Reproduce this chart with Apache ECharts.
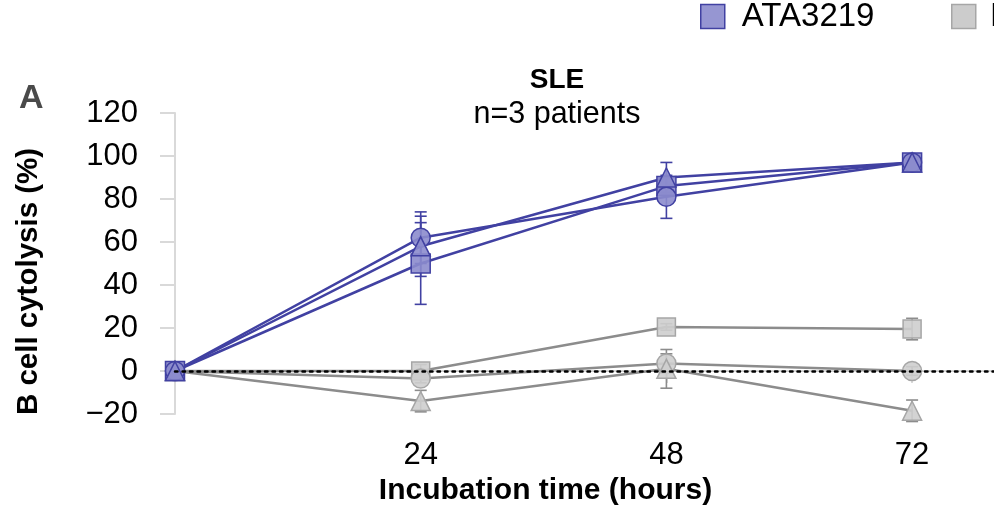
<!DOCTYPE html>
<html>
<head>
<meta charset="utf-8">
<script src="https://cdn.jsdelivr.net/npm/echarts@6/dist/echarts.min.js"></script>
<style>
html,body{margin:0;padding:0;background:#fff;}
#chart{width:994px;height:506px;}
</style>
</head>
<body>
<div id="chart"></div>
<script>
// ---- data ----
const hours = [0, 24, 48, 72];
const xTicks = [24, 48, 72];
const yTicks = [-20, 0, 20, 40, 60, 80, 100, 120];

const ataSquare = [0, 50, 86, 97];
const ataSquareErr = [0, 19, 4, 1];
const ataCircle = [0, 62, 81, 97];
const ataCircleErr = [0, 12, 10, 1];
const ataTriangle = [0, 58, 90, 97];
const ataTriangleErr = [0, 14, 7, 1];

const ctrlSquare = [0, 0, 20.5, 19.5];
const ctrlSquareErr = [0, 3, 1.5, 5];
const ctrlCircle = [0, -3.5, 3.5, 0];
const ctrlCircleErr = [0, 2, 4.5, 2];
const ctrlTriangle = [0, -14, 1, -18.5];
const ctrlTriangleErr = [0, 5, 9, 5];

const legendNames = ['ATA3219', 'Isotype control'];

// ---- styles ----
const BLUE = '#4141a2';
const BLUE_FILL = 'rgba(140,140,205,0.9)';
const GRAY = '#8c8c8c';
const GRAY_FILL = 'rgba(206,206,206,0.9)';
const GRAY_BORDER = '#a6a6a6';
const AXIS = '#d9d9d9';
const FONT = 'Arial, "Liberation Sans", sans-serif';

function pts(vals) { return hours.map((h, i) => [h, vals[i]]); }
function errs(vals, e) { return hours.map((h, i) => [h, vals[i] - e[i], vals[i] + e[i]]); }

function lineSeries(name, vals, symbol, lineColor, fill, border, size) {
  return {
    type: 'line', name: name, data: pts(vals), symbol: symbol, symbolSize: size,
    lineStyle: { color: lineColor, width: 2.5 },
    itemStyle: { color: fill, borderColor: border, borderWidth: 1.5 },
    emphasis: { disabled: true }, animation: false, z: 3
  };
}
function errSeries(name, vals, e, color) {
  return {
    type: 'custom', name: name, data: errs(vals, e), animation: false, z: 2,
    renderItem: function (params, api) {
      const x = api.value(0), lo = api.value(1), hi = api.value(2);
      if (hi - lo < 0.01) return null;
      const a = api.coord([x, hi]), b = api.coord([x, lo]);
      const w = 6;
      const st = { stroke: color, lineWidth: 1.6 };
      return { type: 'group', children: [
        { type: 'line', shape: { x1: a[0], y1: a[1], x2: b[0], y2: b[1] }, style: st },
        { type: 'line', shape: { x1: a[0] - w, y1: a[1], x2: a[0] + w, y2: a[1] }, style: st },
        { type: 'line', shape: { x1: b[0] - w, y1: b[1], x2: b[0] + w, y2: b[1] }, style: st }
      ]};
    }
  };
}

const legendText1 = { fontFamily: FONT, fontSize: 33, color: '#000', padding: [0, 0, 0, 12] };
const legendText2 = { fontFamily: FONT, fontSize: 33, color: '#000', padding: [0, 0, 0, 9] };

const chart = echarts.init(document.getElementById('chart'), null, { renderer: 'canvas' });
chart.setOption({
  backgroundColor: '#fff',
  animation: false,
  title: {
    text: 'SLE', subtext: 'n=3 patients',
    left: 552, top: 61, textAlign: 'center', itemGap: 5,
    textStyle: { fontFamily: FONT, fontSize: 28, fontWeight: 'bold', color: '#000' },
    subtextStyle: { fontFamily: FONT, fontSize: 30.5, color: '#000' }
  },
  legend: [
    {
      left: 700, top: 0, padding: 0, itemWidth: 24, itemHeight: 24,
      selectedMode: false, textStyle: legendText1,
      data: [{ name: legendNames[0], icon: 'rect', itemStyle: { color: 'rgb(150,150,210)', borderColor: BLUE, borderWidth: 1.5 } }]
    },
    {
      left: 951, top: 0, padding: 0, itemWidth: 24, itemHeight: 24,
      selectedMode: false, textStyle: legendText2,
      data: [{ name: legendNames[1], icon: 'rect', itemStyle: { color: '#cccccc', borderColor: GRAY_BORDER, borderWidth: 1.5 } }]
    }
  ],
  graphic: [
    { type: 'text', left: 19, top: 82, style: { text: 'A', fontFamily: FONT, fontSize: 34, fontWeight: 'bold', fill: '#4a4a4a' } }
  ],
  grid: { left: 175, top: 113, right: 0, bottom: 92, outerBoundsMode: 'none', containLabel: false },
  xAxis: {
    type: 'value', min: 0, max: 80,
    name: 'Incubation time (hours)', nameLocation: 'middle', nameGap: 50,
    nameTextStyle: { fontFamily: FONT, fontSize: 30, fontWeight: 'bold', color: '#000', padding: [0, 78, 0, 0] },
    axisLine: { show: true, lineStyle: { color: AXIS, width: 2 } },
    axisTick: { show: true, length: 12, lineStyle: { color: AXIS, width: 2 }, customValues: xTicks },
    axisLabel: { fontFamily: FONT, fontSize: 31, color: '#000', margin: 26, customValues: xTicks },
    splitLine: { show: false }
  },
  yAxis: {
    type: 'value', min: -20, max: 120, interval: 20,
    name: 'B cell cytolysis (%)', nameLocation: 'middle', nameGap: 131,
    nameTextStyle: { fontFamily: FONT, fontSize: 29.5, fontWeight: 'bold', color: '#000', padding: [0, 36, 0, 0] },
    axisLine: { show: true, lineStyle: { color: AXIS, width: 2 } },
    axisTick: { show: true, length: 15, lineStyle: { color: AXIS, width: 2 } },
    axisLabel: { fontFamily: FONT, fontSize: 31, color: '#000', margin: 37, padding: [4, 0, 0, 0],
      formatter: function (v) { return yTicks.indexOf(v) >= 0 ? String(v).replace('-', '\u2212') : ''; } },
    splitLine: { show: false }
  },
  series: [
    errSeries(legendNames[1], ctrlSquare, ctrlSquareErr, GRAY),
    errSeries(legendNames[1], ctrlCircle, ctrlCircleErr, GRAY),
    errSeries(legendNames[1], ctrlTriangle, ctrlTriangleErr, GRAY),
    Object.assign(lineSeries(legendNames[1], ctrlSquare, 'rect', GRAY, GRAY_FILL, GRAY_BORDER, 18), {
      markLine: { silent: true, symbol: 'none', label: { show: false },
        lineStyle: { color: '#000', type: [2.5, 5], width: 2.5, cap: 'round' },
        data: [{ yAxis: 0 }] }
    }),
    lineSeries(legendNames[1], ctrlCircle, 'circle', GRAY, GRAY_FILL, GRAY_BORDER, 19),
    lineSeries(legendNames[1], ctrlTriangle, 'triangle', GRAY, GRAY_FILL, GRAY_BORDER, 19),
    errSeries(legendNames[0], ataSquare, ataSquareErr, BLUE),
    errSeries(legendNames[0], ataCircle, ataCircleErr, BLUE),
    errSeries(legendNames[0], ataTriangle, ataTriangleErr, BLUE),
    lineSeries(legendNames[0], ataSquare, 'rect', BLUE, BLUE_FILL, BLUE, 19),
    lineSeries(legendNames[0], ataCircle, 'circle', BLUE, BLUE_FILL, BLUE, 19),
    lineSeries(legendNames[0], ataTriangle, 'triangle', BLUE, BLUE_FILL, BLUE, 19)
  ]
});
</script>
</body>
</html>
